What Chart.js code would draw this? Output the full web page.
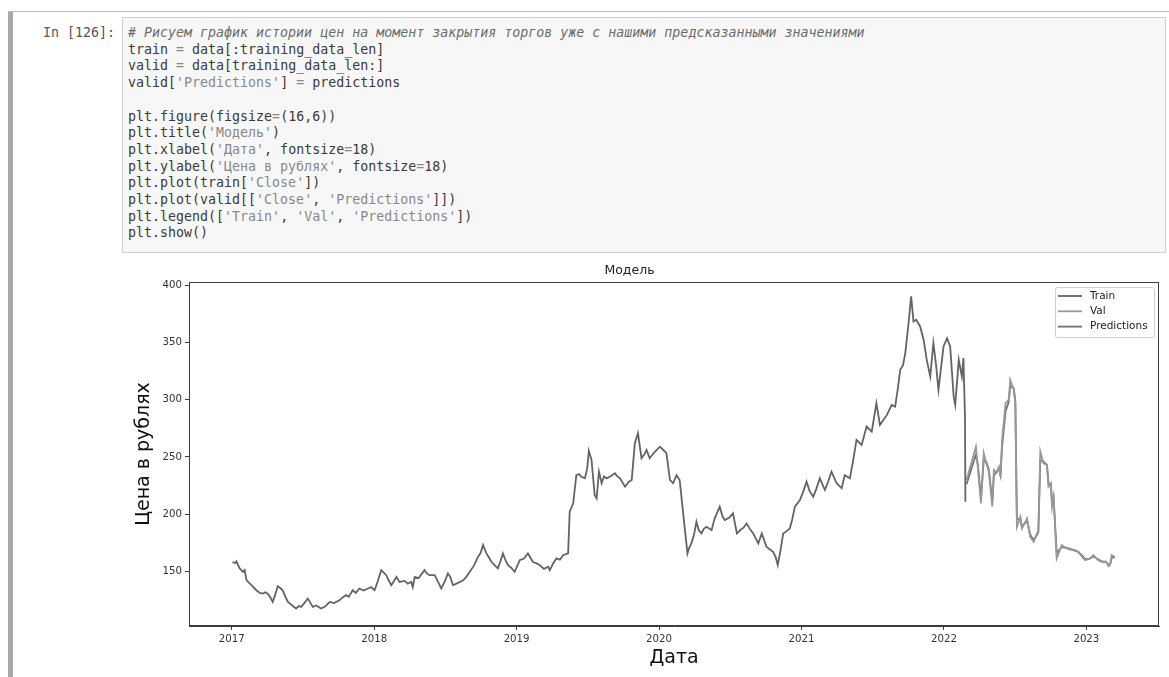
<!DOCTYPE html>
<html>
<head>
<meta charset="utf-8">
<script src="https://cdn.jsdelivr.net/npm/chart.js@4.4.1/dist/chart.umd.min.js"></script>
<style>
  body { margin: 0; background: #fff; width: 1169px; height: 677px; overflow: hidden; position: relative; }
  .topline { position: absolute; left: 8px; top: 11px; width: 1161px; height: 1px; background: #bdbdbd; }
  .sidebar { position: absolute; left: 8px; top: 12px; width: 5px; height: 665px; background: #a9a9a9; }
  .prompt { position: absolute; left: 43px; top: 25px; font: 13.3px/16.7px "DejaVu Sans Mono", monospace; color: #555; white-space: pre; }
  .codebox { position: absolute; left: 122px; top: 17px; width: 1042px; height: 234px; background: #f7f7f7; border: 1px solid #cfcfcf; }
  pre.code { position: absolute; left: 128px; top: 25px; margin: 0; font: 13.3px/16.7px "DejaVu Sans Mono", monospace; color: #3a3a3a; }
  .c { color: #6c6c6c; font-style: italic; }
  .s { color: #888; }
  .o { color: #8a8a8a; }
  .chartbox { position: absolute; left: 100px; top: 258px; width: 1069px; height: 419px; }
</style>
</head>
<body>
<div class="topline"></div>
<div class="sidebar"></div>
<div class="prompt">In [126]:</div>
<div class="codebox"></div>
<pre class="code"><span class="c"># Рисуем график истории цен на момент закрытия торгов уже с нашими предсказанными значениями</span>
train <span class="o">=</span> data[:training_data_len]
valid <span class="o">=</span> data[training_data_len:]
valid[<span class="s">'Predictions'</span>] <span class="o">=</span> predictions

plt.figure(figsize<span class="o">=</span>(16,6))
plt.title(<span class="s">'Модель'</span>)
plt.xlabel(<span class="s">'Дата'</span>, fontsize<span class="o">=</span>18)
plt.ylabel(<span class="s">'Цена в рублях'</span>, fontsize<span class="o">=</span>18)
plt.plot(train[<span class="s">'Close'</span>])
plt.plot(valid[[<span class="s">'Close'</span>, <span class="s">'Predictions'</span>]])
plt.legend([<span class="s">'Train'</span>, <span class="s">'Val'</span>, <span class="s">'Predictions'</span>])
plt.show()</pre>
<div class="chartbox"><canvas id="chart"></canvas></div>
<script>
// Цена закрытия, обучающая часть
const trainDates = [
  '2017-01-03','2017-01-10','2017-01-13','2017-01-21','2017-01-30','2017-02-03','2017-02-08','2017-02-20',
  '2017-03-05','2017-03-14','2017-03-22','2017-03-28','2017-04-04','2017-04-10','2017-04-16','2017-04-22',
  '2017-04-29','2017-05-06','2017-05-12','2017-05-18','2017-05-25','2017-06-05','2017-06-15','2017-06-22',
  '2017-06-28','2017-07-06','2017-07-15','2017-07-22','2017-07-28','2017-08-05','2017-08-18','2017-08-28',
  '2017-09-09','2017-09-20','2017-10-04','2017-10-12','2017-10-21','2017-10-28','2017-11-07','2017-11-15',
  '2017-11-24','2017-12-05','2017-12-16','2017-12-24','2018-01-02','2018-01-10','2018-01-19','2018-01-25',
  '2018-02-01','2018-02-07','2018-02-14','2018-02-20','2018-02-27','2018-03-07','2018-03-20','2018-03-28',
  '2018-04-06','2018-04-10','2018-04-15','2018-04-25','2018-05-10','2018-05-16','2018-05-23','2018-06-05',
  '2018-06-12','2018-06-22','2018-07-01','2018-07-09','2018-07-15','2018-07-22','2018-08-05','2018-08-17',
  '2018-08-25','2018-09-03','2018-09-14','2018-09-24','2018-10-01','2018-10-07','2018-10-15','2018-10-22',
  '2018-10-29','2018-11-06','2018-11-14','2018-11-21','2018-11-27','2018-12-03','2018-12-10','2018-12-18',
  '2018-12-27','2019-01-09','2019-01-20','2019-01-30','2019-02-05','2019-02-12','2019-02-20','2019-03-01',
  '2019-03-12','2019-03-23','2019-03-27','2019-04-05','2019-04-13','2019-04-22','2019-04-30','2019-05-13',
  '2019-05-17','2019-05-26','2019-06-03','2019-06-10','2019-06-16','2019-06-25','2019-07-01','2019-07-05',
  '2019-07-12','2019-07-20','2019-07-25','2019-07-31','2019-08-07','2019-08-13','2019-08-19','2019-08-30',
  '2019-09-10','2019-09-16','2019-09-23','2019-10-06','2019-10-15','2019-10-23','2019-10-31','2019-11-08',
  '2019-11-17','2019-11-24','2019-11-30','2019-12-08','2019-12-20','2020-01-03','2020-01-12','2020-01-20',
  '2020-01-29','2020-02-06','2020-02-15','2020-02-23','2020-03-03','2020-03-14','2020-03-18','2020-03-24',
  '2020-03-31','2020-04-06','2020-04-12','2020-04-19','2020-04-25','2020-05-02','2020-05-15','2020-05-23',
  '2020-06-05','2020-06-12','2020-06-18','2020-06-30','2020-07-09','2020-07-19','2020-07-28','2020-08-05',
  '2020-08-13','2020-08-21','2020-08-30','2020-09-12','2020-09-21','2020-10-03','2020-10-12','2020-10-20',
  '2020-10-27','2020-11-01','2020-11-08','2020-11-15','2020-11-24','2020-12-02','2020-12-08','2020-12-15',
  '2020-12-28','2021-01-06','2021-01-14','2021-01-22','2021-01-31','2021-02-08','2021-02-17','2021-03-02',
  '2021-03-10','2021-03-19','2021-04-01','2021-04-14','2021-04-22','2021-05-05','2021-05-14','2021-05-22',
  '2021-06-04','2021-06-17','2021-06-30','2021-07-12','2021-07-21','2021-08-08','2021-08-20','2021-08-29',
  '2021-09-05','2021-09-11','2021-09-18','2021-09-24','2021-10-02','2021-10-09','2021-10-15','2021-10-22',
  '2021-11-01','2021-11-10','2021-11-18','2021-11-27','2021-12-05','2021-12-12','2021-12-18','2021-12-31',
  '2022-01-09','2022-01-17','2022-01-26','2022-01-30','2022-02-08','2022-02-16','2022-02-20','2022-02-24',
  '2022-02-25'
];
const trainClose = [
  158, 157, 158.5, 152.6, 149.4, 151, 142, 138,
  133.3, 131, 130.4, 131.5, 130, 127, 123, 129,
  136.8, 135, 133, 128, 123, 120, 117.3, 119.5,
  118.7, 122, 126, 122, 118.7, 120, 117.3, 119,
  123, 122, 124.6, 127, 129, 127.5, 133.3, 131,
  134.8, 133, 134.8, 136, 133.3, 141, 150.9, 149,
  146.5, 142, 137.7, 141, 145, 140.6, 141.5, 139,
  140.6, 136, 145, 144, 150.9, 148, 146.5, 146.5,
  142, 134.8, 141, 148, 145, 137.7, 140, 142,
  145, 149.4, 155, 162.5, 166, 172.8, 166, 162,
  158, 155, 152.4, 159, 165.5, 160, 155.3, 153,
  149.4, 159.6, 161, 165.5, 162, 158, 157, 155.3,
  152, 153.8, 150.9, 157, 161.1, 160, 164, 165.5,
  202, 209.3, 234, 235, 232.6, 231.2, 240, 255.4,
  247.3, 216.6, 213.7, 237, 226.9, 233, 231.2, 233,
  235.6, 233, 231.2, 223.9, 228, 229.8, 261.9, 270.7,
  248.8, 252, 256, 248.8, 254, 258.9, 256, 253.2,
  229.8, 226.9, 234, 229.8, 200.6, 165.5, 170, 174.3,
  182, 193.2, 186, 183, 187, 188.8, 185.9, 196.2,
  206.4, 198, 194.7, 197, 200.6, 183, 186, 188,
  191.8, 187, 183, 174.3, 183, 171.3, 169, 166.9,
  162, 155.3, 168, 183, 185, 187.4, 195, 206.4,
  212.2, 220, 228.3, 220, 215.1, 222, 231.2, 221,
  228, 237, 226.9, 222.5, 234, 231.2, 248, 264.8,
  260.4, 276.5, 272.1, 297, 278, 286.7, 295.5, 294,
  310, 326.2, 330, 340.8, 365.6, 390.4, 368.5, 370,
  364.1, 352.5, 334.9, 320.3, 349.6, 330, 308.6, 346.6,
  353.9, 346.6, 302.7, 295.5, 334.9, 320.3, 336.4, 285.2,
  210.7
];

// Проверочная часть: факт и предсказания модели
const validDates = [
  '2022-02-28','2022-03-24','2022-03-29','2022-04-06','2022-04-13','2022-04-19','2022-04-26','2022-05-05',
  '2022-05-09','2022-05-16','2022-05-22','2022-05-26','2022-05-30','2022-06-08','2022-06-16','2022-06-20',
  '2022-06-29','2022-07-03','2022-07-07','2022-07-16','2022-07-20','2022-08-02','2022-08-10','2022-08-19',
  '2022-08-31','2022-09-05','2022-09-13','2022-09-22','2022-09-26','2022-10-02','2022-10-05','2022-10-09',
  '2022-10-17','2022-10-30','2022-11-10','2022-11-20','2022-12-01','2022-12-11','2022-12-20','2022-12-29',
  '2023-01-10','2023-01-19','2023-01-30','2023-02-10','2023-02-20','2023-02-27','2023-03-03','2023-03-07',
  '2023-03-15'
];
const validClose = [
  229.8, 258.9, 240, 209.3, 253.2, 245, 237, 206.4,
  238.5, 236, 241.4, 232.6, 264.8, 297, 299.9, 317.4,
  308.6, 297, 188.8, 197.6, 187.4, 196.2, 180.1, 175.7,
  185.9, 254.6, 244.4, 242.9, 223.9, 226.9, 206.4, 215.1,
  161.1, 172.8, 170, 169.9, 168, 166.9, 163, 159.6,
  161, 164, 160, 158, 158.5, 154.4, 156, 164,
  162.5
];
const predictions = [
  226, 252, 243, 214, 247, 246, 239, 211,
  234, 237, 240, 234, 259, 290, 298, 312,
  310, 299, 196, 195, 189, 194, 182, 177,
  184, 247, 246, 243, 227, 226, 210, 214,
  166, 171, 170.5, 169, 168.5, 167, 164, 160.5,
  161, 163, 160.5, 158.5, 158, 155.5, 156, 162,
  162
];

const seriesNames = ['Train', 'Val', 'Predictions'];
const yearTicks = [2017, 2018, 2019, 2020, 2021, 2022, 2023];
const priceTicks = [150, 200, 250, 300, 350, 400];

// дата -> дробный год для линейной оси
function decYear(s) {
  const d = new Date(s + 'T00:00:00Z');
  const y = d.getUTCFullYear();
  const start = Date.UTC(y, 0, 1), end = Date.UTC(y + 1, 0, 1);
  return y + (d.getTime() - start) / (end - start);
}

function toPoints(dates, values) {
  return dates.map((d, i) => ({ x: decYear(d), y: values[i] }));
}

const frame = {
  id: 'frame',
  afterDatasetsDraw(chart) {
    const { ctx, chartArea: a } = chart;
    ctx.save();
    ctx.strokeStyle = '#3c3c3c';
    ctx.lineWidth = 1;
    ctx.strokeRect(a.left + 0.5, a.top + 0.5, a.right - a.left - 1, a.bottom - a.top - 1);

    // легенда в правом верхнем углу
    const w = 99, h = 50;
    const bx = a.right - 5 - w, by = a.top + 5;
    ctx.fillStyle = 'rgba(255,255,255,0.8)';
    ctx.strokeStyle = '#d0d0d0';
    ctx.beginPath();
    ctx.roundRect(bx + 0.5, by + 0.5, w, h, 2);
    ctx.fill();
    ctx.stroke();
    ctx.font = '10.5px "DejaVu Sans"';
    ctx.textBaseline = 'middle';
    chart.data.datasets.forEach((ds, i) => {
      const yy = by + 9 + i * 15.3;
      ctx.strokeStyle = ds.borderColor;
      ctx.lineWidth = 1.8;
      ctx.beginPath();
      ctx.moveTo(bx + 3, yy);
      ctx.lineTo(bx + 27, yy);
      ctx.stroke();
      ctx.fillStyle = '#222';
      ctx.fillText(ds.label, bx + 35, yy);
    });
    ctx.restore();
  }
};

new Chart(document.getElementById('chart'), {
  type: 'line',
  data: {
    datasets: [
      { label: seriesNames[0], data: toPoints(trainDates, trainClose), borderColor: '#646464' },
      { label: seriesNames[1], data: toPoints(validDates, validClose), borderColor: '#989898' },
      { label: seriesNames[2], data: toPoints(validDates, predictions), borderColor: '#707070' }
    ]
  },
  options: {
    responsive: true,
    maintainAspectRatio: false,
    animation: false,
    events: [],
    elements: {
      point: { radius: 0 },
      line: { borderWidth: 1.8, tension: 0 }
    },
    layout: { padding: { left: 0, right: 10, top: 0, bottom: 0 } },
    plugins: {
      legend: { display: false },
      tooltip: { enabled: false },
      title: {
        display: true,
        text: 'Модель',
        color: '#222',
        font: { family: 'DejaVu Sans', size: 12.5, weight: 'normal' },
        padding: { top: 5, bottom: 4 }
      }
    },
    scales: {
      x: {
        type: 'linear',
        min: 2016.70,
        max: 2023.51,
        afterBuildTicks(scale) { scale.ticks = yearTicks.map(v => ({ value: v })); },
        afterFit(scale) { scale.height = 51; },
        grid: { drawOnChartArea: false, tickLength: 4, color: '#3c3c3c' },
        border: { color: '#3c3c3c' },
        ticks: {
          color: '#333',
          padding: 3,
          maxRotation: 0,
          font: { family: 'DejaVu Sans', size: 10.2 },
          callback: v => String(v)
        },
        title: {
          display: true,
          text: 'Дата',
          color: '#111',
          font: { family: 'DejaVu Sans', size: 19 },
          padding: { top: 0, bottom: 8 }
        }
      },
      y: {
        min: 102,
        max: 403,
        afterBuildTicks(scale) { scale.ticks = priceTicks.map(v => ({ value: v })); },
        afterFit(scale) { scale.width = 89; },
        grid: { drawOnChartArea: false, tickLength: 4, color: '#3c3c3c' },
        border: { color: '#3c3c3c' },
        ticks: {
          color: '#333',
          padding: 3,
          font: { family: 'DejaVu Sans', size: 10.2 },
          callback: v => String(v)
        },
        title: {
          display: true,
          text: 'Цена в рублях',
          color: '#111',
          font: { family: 'DejaVu Sans', size: 19 },
          padding: { top: 33, bottom: 0 }
        }
      }
    }
  },
  plugins: [frame]
});
</script>
</body>
</html>
